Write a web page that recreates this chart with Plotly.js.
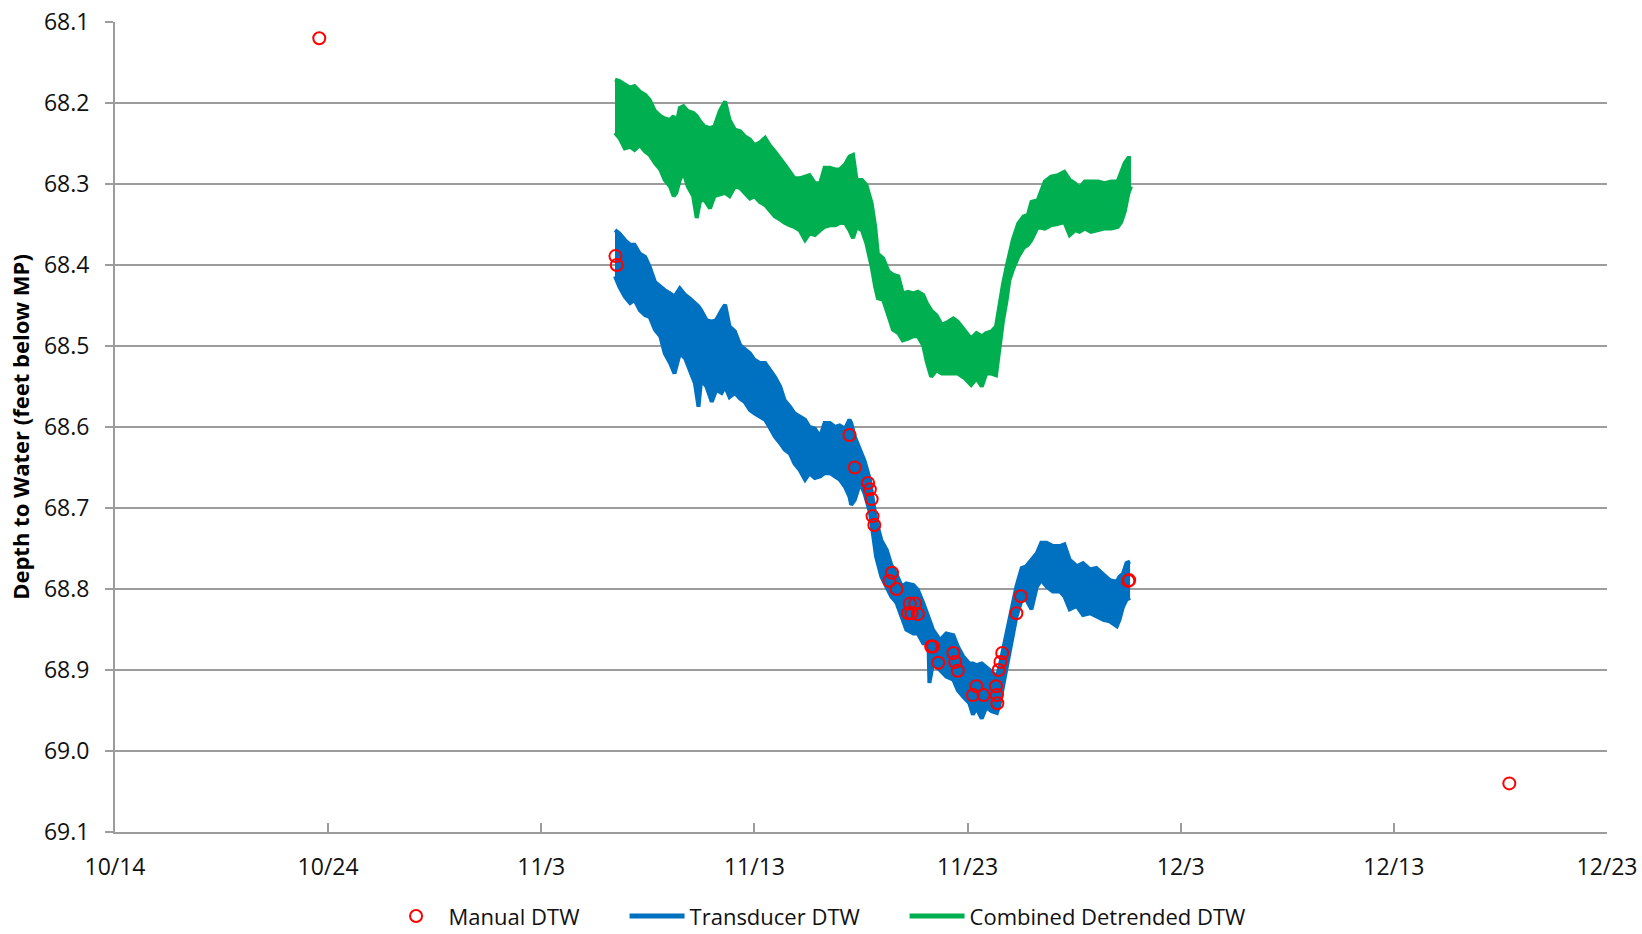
<!DOCTYPE html>
<html>
<head>
<meta charset="utf-8">
<script src="https://cdn.plot.ly/plotly-3.0.1.min.js"></script>
<style>
html, body { margin: 0; padding: 0; background: #ffffff; }
#chart { width: 1642px; height: 934px; }
</style>
</head>
<body>
<div id="chart"></div>
<script>
// ---- Manual DTW readings ----
const manualTime = [
  '2013-10-23 14:00',
  '2013-11-06 11:30', '2013-11-06 13:00',
  '2013-11-17 11:00', '2013-11-17 17:00',
  '2013-11-18 08:00', '2013-11-18 10:00', '2013-11-18 12:00', '2013-11-18 13:00', '2013-11-18 15:00',
  '2013-11-19 11:00', '2013-11-19 08:00', '2013-11-19 16:00',
  '2013-11-20 05:00', '2013-11-20 07:00', '2013-11-20 09:00', '2013-11-20 13:00', '2013-11-20 16:00',
  '2013-11-21 07:00', '2013-11-21 09:00', '2013-11-21 15:00',
  '2013-11-22 08:00', '2013-11-22 10:00', '2013-11-22 13:00',
  '2013-11-23 06:00', '2013-11-23 10:00', '2013-11-23 18:00',
  '2013-11-24 08:00', '2013-11-24 09:00', '2013-11-24 09:30', '2013-11-24 11:00', '2013-11-24 13:00', '2013-11-24 15:00',
  '2013-11-25 07:00', '2013-11-25 12:00',
  '2013-11-30 13:00', '2013-11-30 14:00',
  '2013-12-18 10:00'
];
const manualDTW = [
  68.12,
  68.389, 68.400,
  68.610, 68.650,
  68.669, 68.677, 68.689, 68.710, 68.721,
  68.780, 68.790, 68.800,
  68.830, 68.818, 68.830, 68.818, 68.831,
  68.871, 68.871, 68.891,
  68.879, 68.890, 68.901,
  68.931, 68.920, 68.931,
  68.920, 68.931, 68.941, 68.900, 68.890, 68.879,
  68.830, 68.809,
  68.790, 68.789,
  69.040
];

// ---- Transducer DTW (shallowest / deepest reading of each swing) ----
const transducerTime = [
  '2013-11-06 11:00','2013-11-06 16:00','2013-11-06 22:00','2013-11-07 04:00','2013-11-07 09:00',
  '2013-11-07 15:00','2013-11-07 21:00','2013-11-08 02:00','2013-11-08 08:00','2013-11-08 14:00',
  '2013-11-08 19:00','2013-11-09 01:00','2013-11-09 06:00','2013-11-09 12:00','2013-11-09 18:00',
  '2013-11-09 23:00','2013-11-10 05:00','2013-11-10 09:00','2013-11-10 12:00','2013-11-10 18:00',
  '2013-11-11 00:00','2013-11-11 05:00','2013-11-11 11:00','2013-11-11 15:00','2013-11-11 20:00',
  '2013-11-12 02:00','2013-11-12 08:00','2013-11-12 13:00','2013-11-12 19:00','2013-11-13 00:00',
  '2013-11-13 06:00','2013-11-13 12:00','2013-11-13 17:00','2013-11-13 23:00','2013-11-14 05:00',
  '2013-11-14 10:00','2013-11-14 16:00','2013-11-14 21:00','2013-11-15 03:00','2013-11-15 09:00',
  '2013-11-15 14:00','2013-11-15 20:00','2013-11-16 02:00','2013-11-16 07:00','2013-11-16 13:00',
  '2013-11-16 19:00','2013-11-17 00:00','2013-11-17 06:00','2013-11-17 11:00','2013-11-17 13:00',
  '2013-11-17 17:00','2013-11-17 23:00','2013-11-18 04:00','2013-11-18 10:00','2013-11-18 14:00',
  '2013-11-18 17:00','2013-11-18 23:00','2013-11-19 05:00','2013-11-19 10:00','2013-11-19 16:00',
  '2013-11-19 22:00','2013-11-20 03:00','2013-11-20 11:00','2013-11-20 16:00','2013-11-20 22:00',
  '2013-11-21 04:00','2013-11-21 05:00','2013-11-21 09:00','2013-11-21 17:00','2013-11-22 00:00',
  '2013-11-22 08:00','2013-11-22 13:00','2013-11-22 19:00','2013-11-23 02:00','2013-11-23 06:00',
  '2013-11-23 10:00','2013-11-23 16:00','2013-11-23 21:00','2013-11-24 03:00','2013-11-24 09:00',
  '2013-11-24 12:00','2013-11-24 16:00','2013-11-24 20:00','2013-11-25 01:00','2013-11-25 07:00',
  '2013-11-25 13:00','2013-11-25 18:00','2013-11-26 00:00','2013-11-26 06:00','2013-11-26 11:00',
  '2013-11-26 17:00','2013-11-27 00:00','2013-11-27 08:00','2013-11-27 13:00','2013-11-27 19:00',
  '2013-11-28 03:00','2013-11-28 10:00','2013-11-28 18:00','2013-11-29 01:00','2013-11-29 09:00',
  '2013-11-29 16:00','2013-11-30 00:00','2013-11-30 03:00','2013-11-30 07:00','2013-11-30 11:00',
  '2013-11-30 15:00'
];
const transducerShallow = [
  68.357,68.361,68.369,68.375,68.375,
  68.386,68.390,68.402,68.421,68.427,
  68.431,68.435,68.439,68.429,68.437,
  68.441,68.447,68.451,68.456,68.468,
  68.470,68.468,68.456,68.449,68.476,
  68.482,68.499,68.503,68.509,68.517,
  68.521,68.521,68.528,68.538,68.550,
  68.567,68.575,68.583,68.587,68.591,
  68.600,68.602,68.612,68.595,68.595,
  68.600,68.598,68.602,68.591,68.595,
  68.612,68.628,68.642,68.665,68.690,
  68.715,68.740,68.752,68.770,68.782,
  68.797,68.793,68.795,68.801,68.817,
  68.834,68.838,68.850,68.863,68.855,
  68.857,68.871,68.883,68.892,68.892,
  68.894,68.892,68.896,68.902,68.908,
  68.896,68.875,68.855,68.830,68.797,
  68.774,68.772,68.764,68.756,68.743,
  68.743,68.747,68.747,68.745,68.764,
  68.772,68.768,68.776,68.774,68.782,
  68.789,68.791,68.785,68.781,68.768,
  68.766
];
const transducerDeep = [
  68.414,68.427,68.439,68.447,68.443,
  68.456,68.462,68.464,68.480,68.488,
  68.509,68.521,68.534,68.509,68.515,
  68.530,68.546,68.575,68.542,68.550,
  68.569,68.554,68.558,68.550,68.563,
  68.558,68.565,68.569,68.579,68.583,
  68.587,68.591,68.600,68.612,68.620,
  68.628,68.633,68.645,68.653,68.665,
  68.657,68.663,68.661,68.657,68.657,
  68.661,68.665,68.674,68.686,68.696,
  68.690,68.669,68.682,68.705,68.735,
  68.760,68.785,68.797,68.809,68.817,
  68.834,68.850,68.855,68.855,68.867,
  68.867,68.916,68.892,68.900,68.908,
  68.912,68.925,68.933,68.941,68.955,
  68.947,68.960,68.946,68.951,68.953,
  68.943,68.920,68.896,68.863,68.834,
  68.813,68.813,68.825,68.797,68.789,
  68.797,68.803,68.803,68.809,68.825,
  68.821,68.832,68.830,68.834,68.838,
  68.840,68.846,68.838,68.822,68.813,
  68.811
];

// ---- Combined Detrended DTW (shallowest / deepest reading of each swing) ----
const combinedTime = [
  '2013-11-06 11:00','2013-11-06 16:00','2013-11-06 22:00','2013-11-07 04:00','2013-11-07 09:00',
  '2013-11-07 15:00','2013-11-07 21:00','2013-11-08 02:00','2013-11-08 08:00','2013-11-08 14:00',
  '2013-11-08 19:00','2013-11-09 01:00','2013-11-09 05:00','2013-11-09 08:00','2013-11-09 12:00',
  '2013-11-09 16:00','2013-11-09 21:00','2013-11-10 03:00','2013-11-10 07:00','2013-11-10 11:00',
  '2013-11-10 16:00','2013-11-10 22:00','2013-11-11 03:00','2013-11-11 09:00','2013-11-11 15:00',
  '2013-11-11 20:00','2013-11-12 02:00','2013-11-12 08:00','2013-11-12 13:00','2013-11-12 19:00',
  '2013-11-13 00:00','2013-11-13 06:00','2013-11-13 12:00','2013-11-13 17:00','2013-11-13 23:00',
  '2013-11-14 05:00','2013-11-14 10:00','2013-11-14 16:00','2013-11-14 21:00','2013-11-15 03:00',
  '2013-11-15 09:00','2013-11-15 14:00','2013-11-15 20:00','2013-11-16 02:00','2013-11-16 07:00',
  '2013-11-16 13:00','2013-11-16 19:00','2013-11-17 00:00','2013-11-17 06:00','2013-11-17 11:00',
  '2013-11-17 15:00','2013-11-17 19:00','2013-11-18 01:00','2013-11-18 06:00','2013-11-18 12:00',
  '2013-11-18 16:00','2013-11-18 19:00','2013-11-19 01:00','2013-11-19 07:00','2013-11-19 12:00',
  '2013-11-19 18:00','2013-11-19 23:00','2013-11-20 05:00','2013-11-20 11:00','2013-11-20 16:00',
  '2013-11-20 22:00','2013-11-21 02:00','2013-11-21 07:00','2013-11-21 13:00','2013-11-21 19:00',
  '2013-11-22 02:00','2013-11-22 08:00','2013-11-22 13:00','2013-11-22 21:00','2013-11-23 04:00',
  '2013-11-23 10:00','2013-11-23 16:00','2013-11-23 21:00','2013-11-24 03:00','2013-11-24 08:00',
  '2013-11-24 12:00','2013-11-24 16:00','2013-11-24 20:00','2013-11-24 23:00','2013-11-25 03:00',
  '2013-11-25 09:00','2013-11-25 15:00','2013-11-25 20:00','2013-11-26 00:00','2013-11-26 07:00',
  '2013-11-26 15:00','2013-11-26 22:00','2013-11-27 06:00','2013-11-27 13:00','2013-11-27 19:00',
  '2013-11-28 01:00','2013-11-28 06:00','2013-11-28 12:00','2013-11-28 19:00','2013-11-29 03:00',
  '2013-11-29 10:00','2013-11-29 18:00','2013-11-30 01:00','2013-11-30 05:00','2013-11-30 09:00',
  '2013-11-30 13:00','2013-11-30 16:00'
];
const combinedShallow = [
  68.171,68.173,68.177,68.181,68.179,
  68.186,68.190,68.196,68.210,68.216,
  68.219,68.221,68.216,68.227,68.206,
  68.204,68.210,68.212,68.216,68.223,
  68.229,68.231,68.229,68.210,68.198,
  68.221,68.233,68.235,68.241,68.245,
  68.252,68.249,68.243,68.252,68.260,
  68.268,68.276,68.285,68.293,68.293,
  68.291,68.289,68.299,68.299,68.280,
  68.280,68.282,68.282,68.276,68.266,
  68.264,68.295,68.295,68.301,68.324,
  68.353,68.386,68.392,68.408,68.412,
  68.414,68.435,68.433,68.435,68.433,
  68.437,68.447,68.456,68.462,68.474,
  68.470,68.466,68.470,68.482,68.491,
  68.484,68.488,68.484,68.482,68.476,
  68.447,68.423,68.402,68.386,68.369,
  68.349,68.340,68.338,68.322,68.320,
  68.297,68.291,68.289,68.285,68.295,
  68.299,68.305,68.297,68.297,68.297,
  68.299,68.297,68.297,68.285,68.274,
  68.268,68.268
];
const combinedDeep = [
  68.237,68.243,68.256,68.254,68.258,
  68.252,68.260,68.264,68.274,68.282,
  68.295,68.303,68.315,68.311,68.295,
  68.285,68.303,68.315,68.342,68.320,
  68.320,68.330,68.315,68.313,68.311,
  68.315,68.303,68.305,68.311,68.318,
  68.315,68.322,68.326,68.332,68.340,
  68.344,68.348,68.351,68.353,68.357,
  68.369,68.361,68.363,68.357,68.353,
  68.351,68.351,68.348,68.348,68.357,
  68.367,68.353,68.357,68.373,68.402,
  68.427,68.441,68.443,68.464,68.480,
  68.484,68.493,68.491,68.488,68.488,
  68.499,68.519,68.538,68.530,68.534,
  68.534,68.534,68.534,68.540,68.548,
  68.540,68.550,68.534,68.534,68.536,
  68.501,68.468,68.443,68.419,68.406,
  68.390,68.379,68.375,68.369,68.353,
  68.355,68.351,68.349,68.347,68.363,
  68.357,68.359,68.355,68.359,68.357,
  68.355,68.355,68.353,68.347,68.334,
  68.312,68.303
];

// ---- Axis settings ----
const xStart = '2013-10-14';
const xEnd = '2013-12-23';
const yTop = 68.1;
const yBottom = 69.1;

const BLUE = '#0070C0';
const GREEN = '#00B050';
const RED = '#FF0000';
const GRID = '#9C9C9C';
const TEXT = '#111111';
const FONT = '"Open Sans", "Noto Sans", sans-serif';

const traces = [
  { x: combinedTime, y: combinedShallow, type: 'scatter', mode: 'lines',
    line: { color: GREEN, width: 4 }, showlegend: false, hoverinfo: 'skip' },
  { x: combinedTime, y: combinedDeep, type: 'scatter', mode: 'lines', fill: 'tonexty',
    fillcolor: GREEN, line: { color: GREEN, width: 4 }, showlegend: false, hoverinfo: 'skip' },
  { x: transducerTime, y: transducerShallow, type: 'scatter', mode: 'lines',
    line: { color: BLUE, width: 4 }, showlegend: false, hoverinfo: 'skip' },
  { x: transducerTime, y: transducerDeep, type: 'scatter', mode: 'lines', fill: 'tonexty',
    fillcolor: BLUE, line: { color: BLUE, width: 4 }, showlegend: false, hoverinfo: 'skip' },
  { x: manualTime, y: manualDTW, type: 'scatter', mode: 'markers', name: 'Manual DTW',
    legendwidth: 171,
    marker: { symbol: 'circle-open', size: 12, color: RED, line: { width: 2, color: RED } } },
  { x: [null], y: [null], type: 'scatter', mode: 'lines', name: 'Transducer DTW',
    legendwidth: 210,
    line: { color: BLUE, width: 5 } },
  { x: [null], y: [null], type: 'scatter', mode: 'lines', name: 'Combined Detrended DTW',
    line: { color: GREEN, width: 5 } }
];

const layout = {
  width: 1642, height: 934,
  paper_bgcolor: '#ffffff', plot_bgcolor: '#ffffff',
  margin: { l: 115, r: 35, t: 22, b: 102, autoexpand: false },
  font: { family: FONT, size: 22, color: TEXT },
  showlegend: true,
  legend: {
    orientation: 'h', x: 0.18, xanchor: 'left', y: -0.104, yanchor: 'middle',
    itemwidth: 55,
    font: { family: FONT, size: 22, color: TEXT }, traceorder: 'normal',
    bgcolor: 'rgba(0,0,0,0)'
  },
  xaxis: {
    type: 'date', range: [xStart, xEnd], tick0: xStart, dtick: 864000000,
    tickformat: '%-m/%-d', ticks: 'inside', ticklen: 9, tickwidth: 2, tickcolor: GRID,
    showgrid: false, showline: true, linecolor: GRID, linewidth: 2, zeroline: false,
    tickfont: { family: FONT, size: 23, color: TEXT }, ticklabelstandoff: 13,
    automargin: false
  },
  yaxis: {
    range: [yBottom, yTop], tick0: yTop, dtick: 0.1, tickformat: '.1f',
    ticks: 'outside', ticklen: 8, tickwidth: 2, tickcolor: GRID,
    showgrid: true, gridcolor: GRID, gridwidth: 2,
    showline: true, linecolor: GRID, linewidth: 2, zeroline: false,
    tickfont: { family: FONT, size: 23, color: TEXT }, ticklabelstandoff: 11,
    automargin: false,
    title: { text: 'Depth to Water (feet below MP)', standoff: 8,
             font: { family: FONT, size: 22, weight: 700, color: '#000000' } }
  }
};

Plotly.newPlot('chart', traces, layout, { displayModeBar: false, staticPlot: true });
</script>
</body>
</html>
